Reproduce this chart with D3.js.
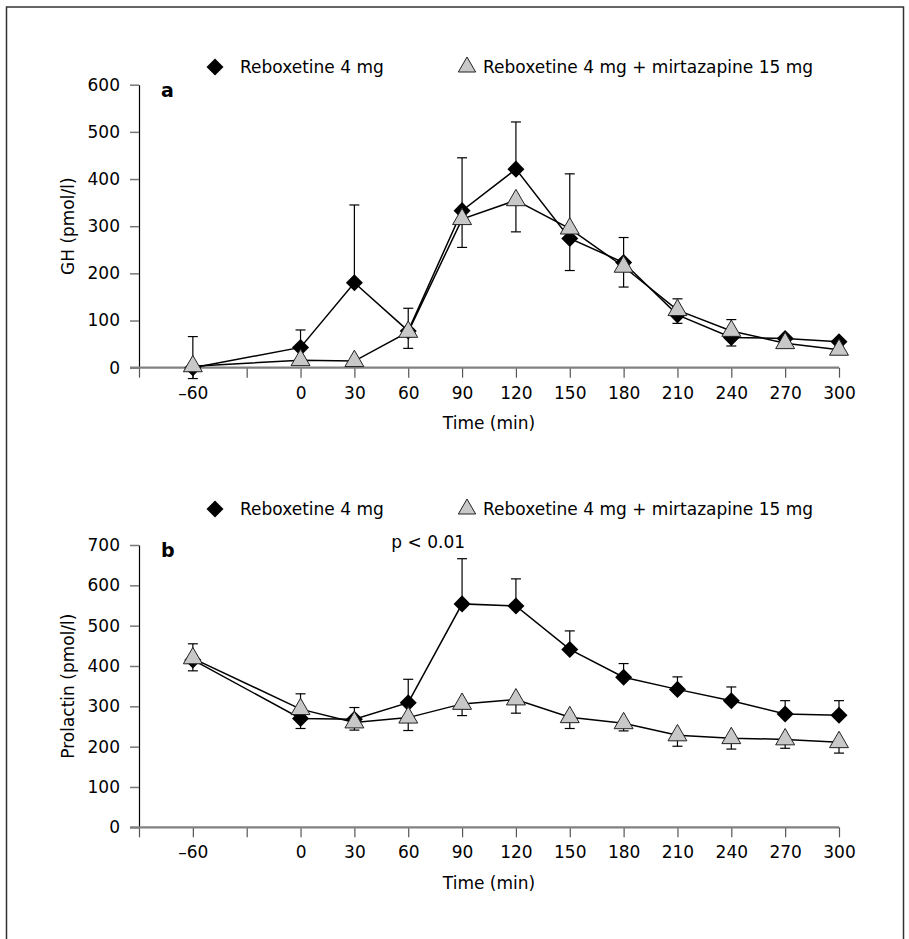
<!DOCTYPE html>
<html>
<head>
<meta charset="utf-8">
<script src="https://cdn.jsdelivr.net/npm/d3@7"></script>
<style>
  body { margin: 0; background: #fff; }
  svg text { font-family: "DejaVu Sans", sans-serif; font-size: 17px; fill: #000; }
</style>
</head>
<body>
<div id="chart"></div>
<script>
// sampling times (min)
const times = [-60, 0, 30, 60, 90, 120, 150, 180, 210, 240, 270, 300];
const xTickValues = [-90, -60, -30, 0, 30, 60, 90, 120, 150, 180, 210, 240, 270, 300];
const xTickLabels = ["", "\u201360", "", "0", "30", "60", "90", "120", "150", "180", "210", "240", "270", "300"];

const seriesNames = ["Reboxetine 4 mg", "Reboxetine 4 mg + mirtazapine 15 mg"];

// panel a: GH (pmol/l)
const ghReboxetine = [0, 43, 180, 78, 333, 421, 274, 223, 112, 64, 62, 55];
const ghReboxetineHigh = [66, 80, 345, 126, 445, 521, 411, 276, 146, 102, null, null];
const ghCombo = [3, 16, 14, 76, 315, 355, 295, 214, 122, 78, 52, 38];
const ghComboLow = [-23, null, null, 41, 255, 288, 206, 171, 94, 46, null, null];
const ghTicks = [0, 100, 200, 300, 400, 500, 600];

// panel b: prolactin (pmol/l)
const prlReboxetine = [415, 270, 268, 309, 554, 549, 441, 372, 342, 314, 281, 278];
const prlReboxetineHigh = [455, 331, 297, 367, 666, 616, 487, 406, 373, 348, 314, 314];
const prlCombo = [419, 293, 260, 272, 306, 317, 273, 258, 228, 221, 218, 211];
const prlComboLow = [388, 245, 241, 240, 277, 283, 245, 239, 201, 194, 196, 184];
const prlTicks = [0, 100, 200, 300, 400, 500, 600, 700];

const width = 909, height = 939;

const svg = d3.select("#chart").append("svg")
    .attr("width", width)
    .attr("height", height);

// outer frame
svg.append("rect")
    .attr("x", 6.5).attr("y", 7)
    .attr("width", 897).attr("height", 960)
    .attr("fill", "none")
    .attr("stroke", "#333")
    .attr("stroke-width", 1.5);

const x = d3.scaleLinear().domain([-90, 300]).range([139, 839]);

const diamond = d3.symbol().type(d3.symbolSquare);
const triangle = d3.symbol().type(d3.symbolTriangle);

function drawPanel(opts) {
    const y = d3.scaleLinear().domain(opts.domain).range([opts.bottom, opts.top]);
    const g = svg.append("g");

    // y axis
    const yAxis = g.append("g")
        .attr("transform", `translate(${x.range()[0]},0)`)
        .call(d3.axisLeft(y).tickValues(opts.yTicks).tickSize(9).tickPadding(10).tickSizeOuter(0));
    yAxis.select(".domain").attr("stroke", "#000").attr("stroke-width", 1.2);
    yAxis.selectAll(".tick line").attr("stroke", "#777").attr("stroke-width", 1.5);
    yAxis.attr("font-size", null).attr("font-family", null);

    // x axis
    const xAxis = g.append("g")
        .attr("transform", `translate(0,${opts.bottom})`)
        .call(d3.axisBottom(x).tickValues(xTickValues)
            .tickFormat((d, i) => xTickLabels[i])
            .tickSize(10).tickPadding(9).tickSizeOuter(0));
    xAxis.select(".domain").remove();
    xAxis.selectAll(".tick line").attr("stroke", "#555").attr("stroke-width", 1.2);
    xAxis.attr("font-size", null).attr("font-family", null);
    g.append("line")
        .attr("x1", x.range()[0] - 9).attr("x2", x.range()[1])
        .attr("y1", opts.bottom).attr("y2", opts.bottom)
        .attr("stroke", "#808080").attr("stroke-width", 2.2);

    // axis titles
    g.append("text")
        .attr("x", (x.range()[0] + x.range()[1]) / 2)
        .attr("y", opts.bottom + 61.5)
        .attr("text-anchor", "middle")
        .text("Time (min)");
    g.append("text")
        .attr("transform", `translate(74,${(opts.top + opts.bottom) / 2}) rotate(-90)`)
        .attr("text-anchor", "middle")
        .text(opts.yLabel);

    // panel letter
    g.append("text")
        .attr("x", 161).attr("y", opts.top + 12)
        .attr("font-weight", "bold")
        .style("font-size", "19px")
        .text(opts.letter);

    const line = d3.line().x((d, i) => x(times[i])).y(d => y(d));

    g.append("path").datum(opts.s1)
        .attr("d", line).attr("fill", "none")
        .attr("stroke", "#000").attr("stroke-width", 1.5);
    g.append("path").datum(opts.s2)
        .attr("d", line).attr("fill", "none")
        .attr("stroke", "#000").attr("stroke-width", 1.5);

    // error bars (one-sided)
    const bars = [];
    opts.s1.forEach((v, i) => { if (opts.e1[i] != null) bars.push({ t: times[i], v: v, e: opts.e1[i] }); });
    opts.s2.forEach((v, i) => { if (opts.e2[i] != null) bars.push({ t: times[i], v: v, e: opts.e2[i] }); });

    const eb = g.append("g").attr("stroke", "#000").attr("stroke-width", 1.2);
    eb.selectAll(".stem").data(bars).enter().append("line")
        .attr("x1", d => x(d.t)).attr("x2", d => x(d.t))
        .attr("y1", d => y(d.v)).attr("y2", d => y(d.e));
    eb.selectAll(".cap").data(bars).enter().append("line")
        .attr("x1", d => x(d.t) - 5).attr("x2", d => x(d.t) + 5)
        .attr("y1", d => y(d.e)).attr("y2", d => y(d.e));

    g.selectAll(".dia").data(opts.s1).enter().append("path")
        .attr("d", diamond.size(145))
        .attr("transform", (d, i) => `translate(${x(times[i])},${y(d)}) rotate(45)`)
        .attr("fill", "#000");
    g.selectAll(".tri").data(opts.s2).enter().append("path")
        .attr("d", triangle.size(155))
        .attr("transform", (d, i) => `translate(${x(times[i])},${y(d)})`)
        .attr("fill", "#c8c8c8").attr("stroke", "#222").attr("stroke-width", 1);

    // legend
    const lg = g.append("g").attr("transform", `translate(0,${opts.legendY})`);
    lg.append("path").attr("d", diamond.size(145))
        .attr("transform", "translate(215,0) rotate(45)").attr("fill", "#000");
    lg.append("text").attr("x", 240).attr("y", 6).text(seriesNames[0]);
    lg.append("path").attr("d", triangle.size(130))
        .attr("transform", "translate(467,0)")
        .attr("fill", "#c8c8c8").attr("stroke", "#222").attr("stroke-width", 1);
    lg.append("text").attr("x", 483).attr("y", 6).text(seriesNames[1]);

    if (opts.note) {
        g.append("text")
            .attr("x", x(90) + 3).attr("y", opts.top + 3)
            .attr("text-anchor", "end")
            .text(opts.note);
    }
}

drawPanel({
    domain: [0, 600], top: 84.7, bottom: 367.7, yTicks: ghTicks,
    yLabel: "GH (pmol/l)", letter: "a", legendY: 67,
    s1: ghReboxetine, e1: ghReboxetineHigh, s2: ghCombo, e2: ghComboLow
});

drawPanel({
    domain: [0, 700], top: 545, bottom: 827.3, yTicks: prlTicks,
    yLabel: "Prolactin (pmol/l)", letter: "b", legendY: 509,
    s1: prlReboxetine, e1: prlReboxetineHigh, s2: prlCombo, e2: prlComboLow,
    note: "p < 0.01"
});
</script>
</body>
</html>
